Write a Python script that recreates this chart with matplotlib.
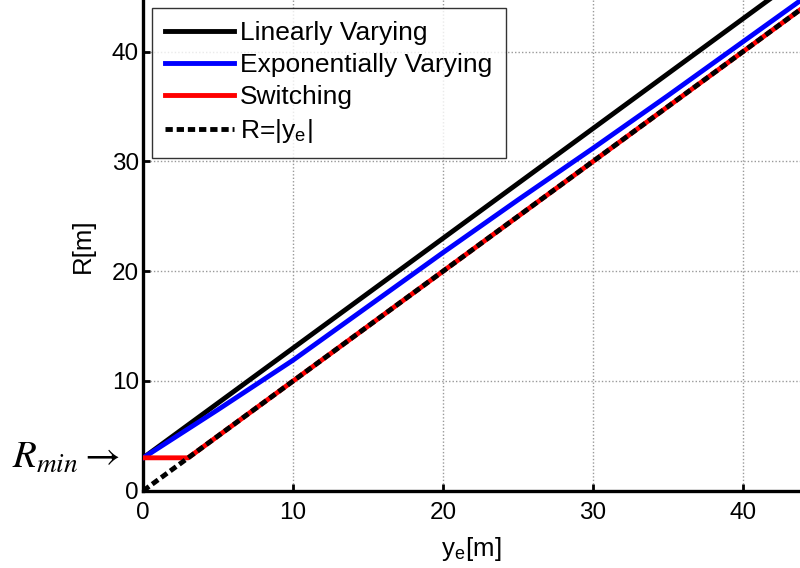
import matplotlib
matplotlib.use("Agg")
import matplotlib.pyplot as plt

plt.rcParams["font.family"] = ["Liberation Sans", "DejaVu Sans"]
plt.rcParams["mathtext.fontset"] = "stix"

# lateral offset y_e [m] and range R [m]
y_lin = [0, 45]
R_lin = [3, 48]

y_exp = [0, 5, 10, 15, 20, 25, 30, 35, 40, 45]
R_exp = [3, 7.4, 11.9, 16.8, 21.7, 26.5, 31.2, 36.0, 40.9, 45.8]

y_sw = [0, 3, 45]
R_sw = [3, 3, 45]

y_abs = [0, 45]
R_abs = [0, 45]

R_MIN = 3

fig = plt.figure(figsize=(8, 5.68), dpi=100)
ax = fig.add_axes([0.179, 0.136, 0.821, 0.864])

ax.plot(y_lin, R_lin, color="black", lw=3.5, label="Linearly Varying", zorder=3)
ax.plot(y_exp, R_exp, color="#0000ff", lw=3.5, label="Exponentially Varying", zorder=3)
ax.plot(y_sw, R_sw, color="#ff0000", lw=3.5, label="Switching", zorder=3)
ax.plot(y_abs, R_abs, color="black", lw=3.5, ls=(0, (1.5, 0.8)),
        label="R=|y$_\\mathregular{e}$|", zorder=4)

ax.set_xlim(0, 43.8)
ax.set_ylim(0, 44.7)
ax.set_xticks([0, 10, 20, 30, 40])
ax.set_yticks([0, 10, 20, 30, 40])
ax.grid(True, ls=(0, (1, 1.5)), color="#999999", lw=1.0)
ax.set_axisbelow(True)

for side in ["top", "right"]:
    ax.spines[side].set_visible(False)
for side in ["left", "bottom"]:
    ax.spines[side].set_linewidth(2.4)
ax.tick_params(direction="in", length=5, width=2, labelsize=17.5)
ax.tick_params(axis="x", pad=8)
ax.tick_params(axis="y", pad=3)

ax.set_xlabel("y$_\\mathregular{e}$[m]", fontsize=18.5, labelpad=8)
ax.set_ylabel("R[m]", fontsize=18.5, labelpad=12)

leg = ax.legend(loc="upper left", bbox_to_anchor=(0.013, 0.984), fontsize=19,
                frameon=True, fancybox=False, edgecolor="black",
                handlelength=2.6, handletextpad=0.25, labelspacing=0.3,
                borderpad=0.5, borderaxespad=0)
leg.get_frame().set_linewidth(1.0)

ax.annotate(r"$R_{min}\rightarrow$", xy=(0, R_MIN), xycoords="data",
            xytext=(-131, 0), textcoords="offset pixels",
            fontsize=28, va="center", ha="left", annotation_clip=False)

fig.savefig("out.png", dpi=100)
